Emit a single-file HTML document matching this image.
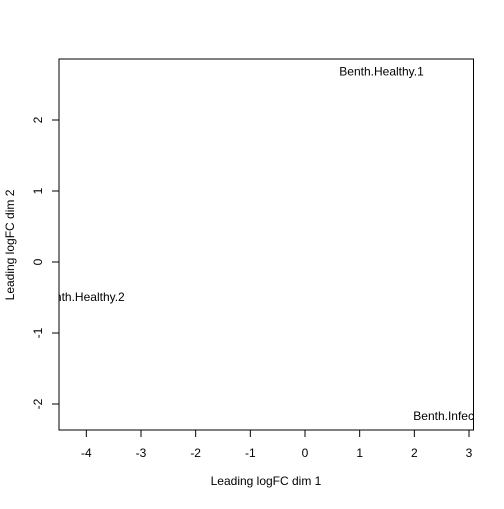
<!DOCTYPE html>
<html><head><meta charset="utf-8"><style>
html,body{margin:0;padding:0;background:#fff;}
svg text{font-family:"Liberation Sans",sans-serif;font-size:12px;fill:#000;}
</style></head><body>
<svg id="chart" width="504" height="504">
<defs><clipPath id="clip"><rect x="59" y="59" width="414.5" height="371"/></clipPath></defs>
<rect x="59" y="59" width="414.5" height="371" fill="none" stroke="#000" stroke-width="1"/>
<g id="xaxis"></g><g id="yaxis"></g><g id="labels" clip-path="url(#clip)"></g>
<text x="266" y="485" text-anchor="middle">Leading logFC dim 1</text>
<text transform="translate(14,245) rotate(-90)" text-anchor="middle">Leading logFC dim 2</text>
</svg>
<script>
const sampleNames = ["Benth.Healthy.1","Benth.Healthy.2","Benth.Infected.1"];
const dim1Values = [1.40, -4.07, 2.78];
const dim2Values = [2.68, -0.49, -2.17];
const xTicks = [-4,-3,-2,-1,0,1,2,3];
const yTicks = [-2,-1,0,1,2];
const NS="http://www.w3.org/2000/svg";
function xs(v){return 305+v*54.67;}
function ys(v){return 262-v*71;}
const xa=document.getElementById('xaxis'), ya=document.getElementById('yaxis'), lb=document.getElementById('labels');
xTicks.forEach(t=>{
  const l=document.createElementNS(NS,'line');
  l.setAttribute('x1',xs(t));l.setAttribute('x2',xs(t));l.setAttribute('y1',430);l.setAttribute('y2',437);l.setAttribute('stroke','#000');
  
  
  xa.appendChild(l);
  const tx=document.createElementNS(NS,'text');
  tx.setAttribute('x',xs(t));tx.setAttribute('y',457);tx.setAttribute('text-anchor','middle');tx.textContent=t;
  
  
  xa.appendChild(tx);
});
yTicks.forEach(t=>{
  const l=document.createElementNS(NS,'line');
  l.setAttribute('x1',52);l.setAttribute('x2',59);l.setAttribute('y1',ys(t));l.setAttribute('y2',ys(t));l.setAttribute('stroke','#000');
  
  
  ya.appendChild(l);
  const tx=document.createElementNS(NS,'text');
  tx.setAttribute('transform','translate(42,'+ys(t)+') rotate(-90)');tx.setAttribute('text-anchor','middle');tx.textContent=t;
  
  
  ya.appendChild(tx);
});
sampleNames.forEach((n,i)=>{
  const tx=document.createElementNS(NS,'text');
  tx.setAttribute('x',xs(dim1Values[i]));tx.setAttribute('y',ys(dim2Values[i])+4);tx.setAttribute('text-anchor','middle');tx.textContent=n;
  
  
  lb.appendChild(tx);
});
</script>
</body></html>
